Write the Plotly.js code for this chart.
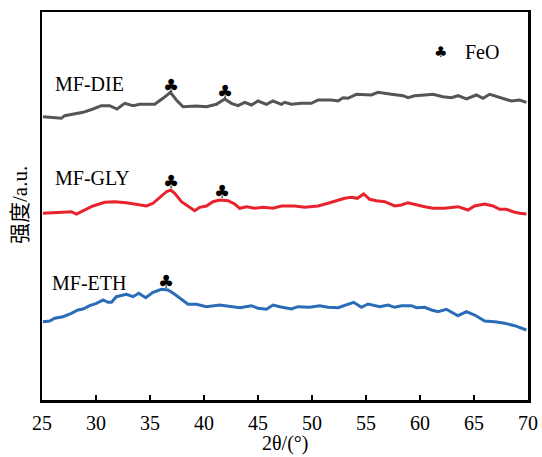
<!DOCTYPE html>
<html>
<head>
<meta charset="utf-8">
<script src="https://cdn.plot.ly/plotly-3.0.1.min.js"></script>
<style>html,body{margin:0;padding:0;background:#fff;}#chart{width:542px;height:457px;}</style>
</head>
<body>
<div id="chart"></div>
<script>
// 2θ (degrees) and intensity (a.u.)
const dieX = [25.09,26.02,26.80,27.10,27.87,28.80,29.72,30.50,31.27,31.94,32.66,33.43,34.05,35.44,36.20,36.89,37.44,38.06,39.30,40.22,41.15,41.92,42.54,43.15,43.77,44.39,45.00,45.78,46.39,47.17,47.47,48.09,49.02,49.94,50.56,51.80,52.41,52.87,53.33,54.11,55.50,56.11,57.35,58.43,58.89,59.51,60.44,61.20,62.13,62.91,63.52,64.30,65.22,65.83,66.45,67.38,68.46,69.23,69.85];
const dieY = [283.3,282.3,281.7,284.3,285.7,287.7,291,294.3,294.3,291,296.7,294.3,295.7,295.7,301.7,307.7,300,293.3,294,293.3,295.7,301,296.7,294.3,297.7,295,299,295.7,299,295.7,297.7,295.7,296.7,296.7,300,300,299,302.3,301.7,305.7,305,307.7,305.7,304.3,302.3,304.3,305,305.7,303.3,302.3,304.3,301,305,301.7,305.7,302.3,299,300,297.7];

const glyX = [25.09,26.02,26.94,27.72,28.19,28.80,29.72,30.81,31.73,32.81,33.74,34.67,35.28,35.90,36.52,36.92,37.29,37.91,38.68,39.14,39.60,40.22,40.83,41.45,42.22,42.84,43.31,43.93,44.69,45.46,46.39,47.17,47.47,48.40,49.32,50.56,51.48,52.56,53.03,53.65,54.20,54.79,55.34,55.96,56.73,57.66,58.28,58.89,59.67,60.44,61.20,62.29,63.52,64.44,65.06,65.99,66.76,67.38,68.00,68.61,69.23,69.85];
const glyY = [186.7,187.3,188.3,188.3,186,189.3,194,197.7,198.3,197.3,195.7,194,196.7,202.7,208.3,210,206.7,198.3,192.7,189.3,192.7,194,198.3,200,199.3,196,191.7,193.3,191.7,192.7,191.7,194,194,194,192.7,194,196.7,200.7,201.7,202.7,201.7,206,200.7,199.3,198.3,194,195,197.3,195,193.3,191.7,191.7,193.3,190,194,196,194,190.7,190.7,188.3,186.7,186];

const ethX = [25.09,25.71,26.18,26.94,27.72,28.33,28.80,29.42,30.04,30.65,31.11,31.43,31.89,32.81,33.43,33.95,34.60,35.28,36.06,36.67,37.29,37.91,38.52,39.30,40.22,41.45,42.54,43.31,44.39,45.00,45.78,46.39,47.01,47.47,48.09,48.70,49.79,50.71,51.48,52.41,53.03,53.86,54.57,55.19,56.27,57.04,57.66,58.28,59.20,59.67,60.44,61.06,61.67,62.44,63.52,64.30,65.06,65.99,66.92,67.84,68.77,69.85];
const ethY = [78.3,79,81.7,83.3,86.7,90,91,94.3,96.7,100,97.7,97.7,103.3,105.7,103.3,106.7,102.3,107.7,110.7,110,105.7,101,95.7,95.7,93.3,95,93.3,92.3,94.3,91.7,90.7,95,93.3,92.3,91,93.3,92.7,94.3,92.7,92.3,94.3,97.7,92.7,96,93.3,95,92.7,94.3,94.3,92.3,92.7,90,88.3,90.7,84.3,88.3,85,79,78.3,76.7,74.3,70];

const seriesNames = ["MF-DIE","MF-GLY","MF-ETH"];
const xTicks = [25,30,35,40,45,50,55,60,65,70];

const serif = "Liberation Serif, Times New Roman, serif";
const traces = [
  {x: dieX, y: dieY, name: seriesNames[0], mode: "lines", line: {color: "#555555", width: 3}},
  {x: glyX, y: glyY, name: seriesNames[1], mode: "lines", line: {color: "#e8232e", width: 3}},
  {x: ethX, y: ethY, name: seriesNames[2], mode: "lines", line: {color: "#2b6cb8", width: 3}}
];

const club = "\u2663";
const clubFont = {family: "DejaVu Sans", size: 18, color: "#000"};
const labelFont = {family: serif, size: 20, color: "#000"};
const annotations = [
  {x: 29.42, y: 316, text: seriesNames[0], showarrow: false, font: labelFont},
  {x: 29.69, y: 222, text: seriesNames[1], showarrow: false, font: labelFont},
  {x: 29.37, y: 117, text: seriesNames[2], showarrow: false, font: labelFont},
  {x: 36.92, y: 315, text: club, showarrow: false, font: clubFont},
  {x: 41.98, y: 308.3, text: club, showarrow: false, font: clubFont},
  {x: 36.92, y: 218.3, text: club, showarrow: false, font: clubFont},
  {x: 41.70, y: 209, text: club, showarrow: false, font: clubFont},
  {x: 36.45, y: 119, text: club, showarrow: false, font: clubFont},
  {x: 61.92, y: 348, text: club, showarrow: false, font: {family: "DejaVu Sans", size: 15, color: "#000"}},
  {x: 63.97, y: 348, text: "FeO", xanchor: "left", showarrow: false, font: labelFont},
  {xref: "paper", yref: "paper", x: (20 - 42) / 486, y: 0.5026, text: "强度/a.u.", textangle: -90, showarrow: false,
   xanchor: "center", yanchor: "middle", font: {family: "Liberation Serif, Noto Sans CJK SC", size: 21, color: "#000"}},
  {xref: "paper", yref: "paper", x: 0.5, y: -0.113, text: "2θ/(°)", showarrow: false,
   xanchor: "center", yanchor: "middle", font: labelFont}
];

const layout = {
  width: 542, height: 457,
  margin: {l: 42, r: 14, t: 12, b: 57, pad: 0},
  paper_bgcolor: "#fff", plot_bgcolor: "#fff",
  showlegend: false,
  xaxis: {
    range: [25, 70], tickvals: xTicks, ticktext: xTicks.map(String),
    ticks: "inside", ticklen: 5, tickwidth: 2, tickcolor: "#000",
    ticklabelstandoff: 3,
    showline: true, linewidth: 2.5, linecolor: "#000", mirror: true,
    showgrid: false, zeroline: false,
    tickfont: {family: serif, size: 20, color: "#000"}
  },
  yaxis: {
    range: [0, 388], showticklabels: false, ticks: "",
    showline: true, linewidth: 2.5, linecolor: "#000", mirror: true,
    showgrid: false, zeroline: false
  },
  annotations: annotations
};

Plotly.newPlot("chart", traces, layout, {staticPlot: true, displayModeBar: false});
</script>
</body>
</html>
